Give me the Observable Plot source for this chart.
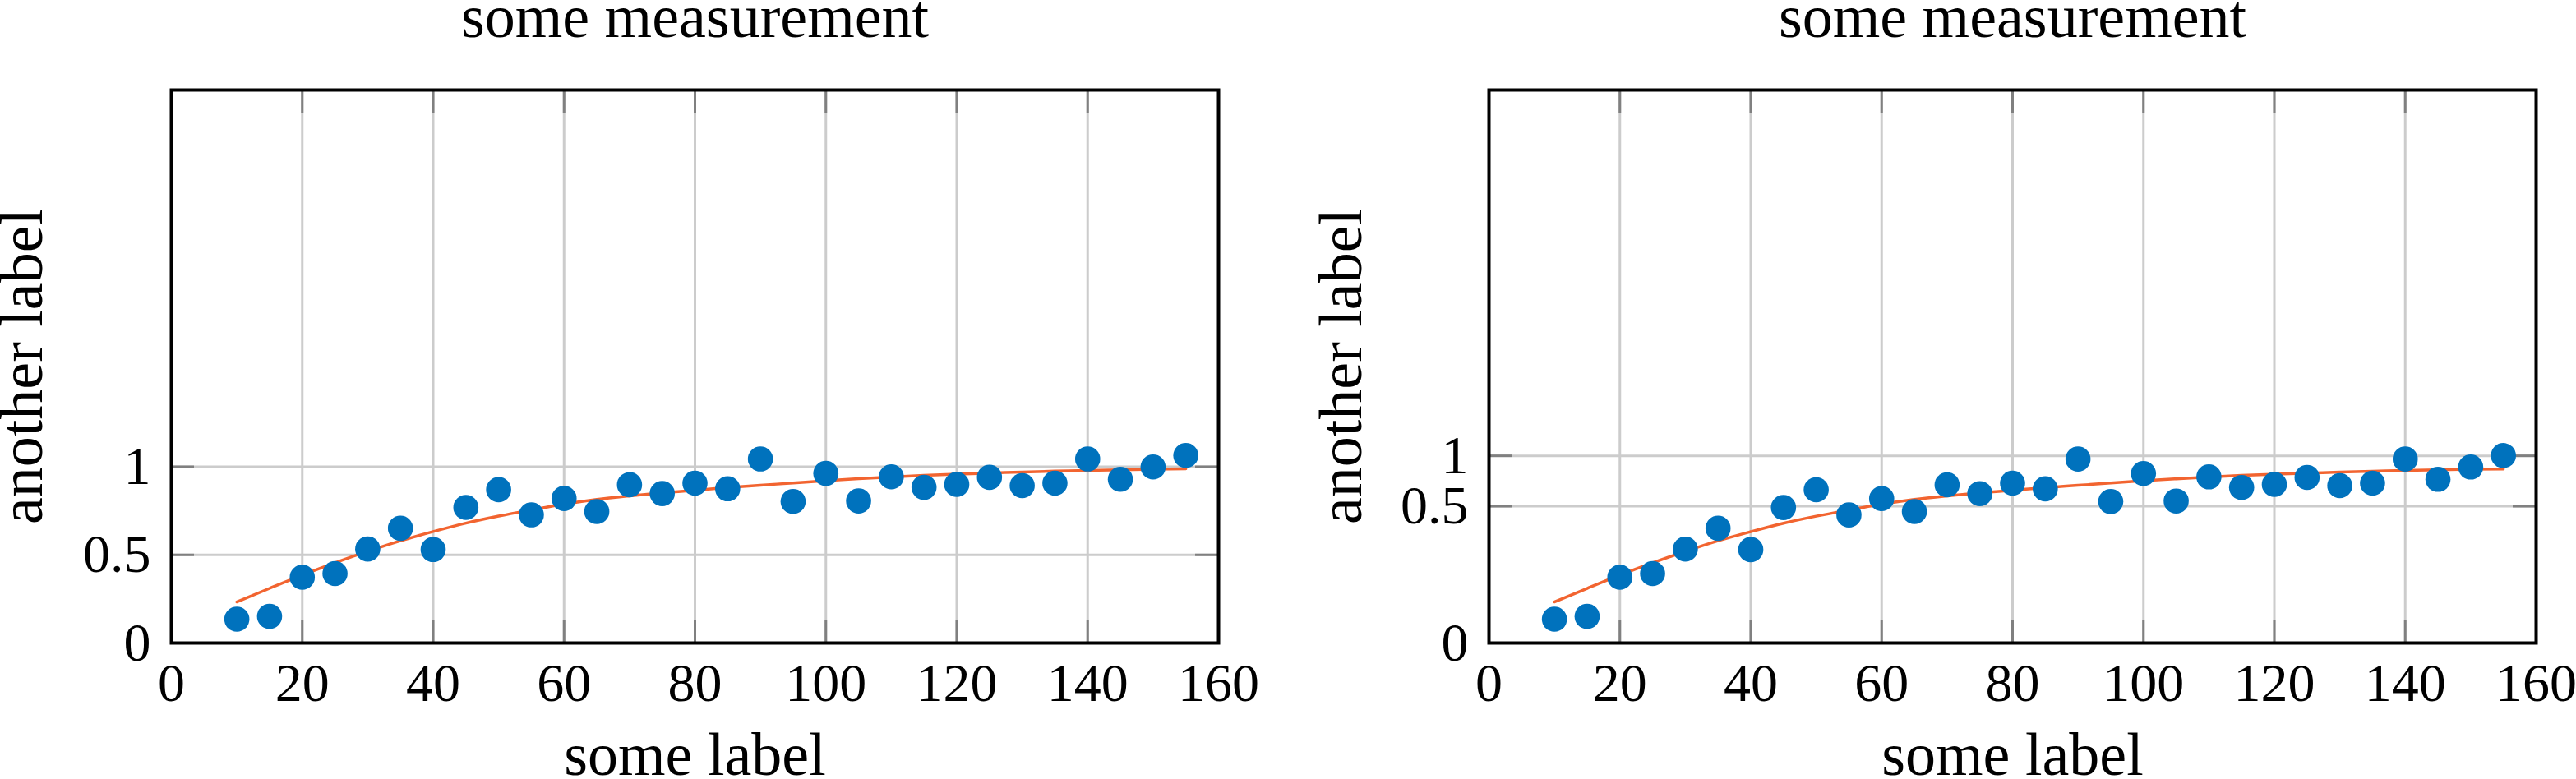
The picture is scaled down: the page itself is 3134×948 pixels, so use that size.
<!DOCTYPE html>
<html>
<head>
<meta charset="utf-8">
<script src="https://cdn.jsdelivr.net/npm/d3@7"></script>
<script src="https://cdn.jsdelivr.net/npm/@observablehq/plot@0.6"></script>
<style>
  html, body { margin: 0; padding: 0; background: white; }
  #wrap { display: flex; width: 3134px; height: 948px; }
</style>
</head>
<body>
<div id="wrap"></div>
<script>
// ---- data ----
const xs = [10, 15, 20, 25, 30, 35, 40, 45, 50, 55, 60, 65, 70, 75, 80, 85, 90, 95, 100, 105, 110, 115, 120, 125, 130, 135, 140, 145, 150, 155];

// left panel (linear y axis)
const leftY = [0.135, 0.151, 0.373, 0.394, 0.533, 0.651, 0.530, 0.769, 0.870, 0.727, 0.820, 0.746, 0.898, 0.848, 0.907, 0.875, 1.044, 0.803, 0.962, 0.806, 0.943, 0.883, 0.900, 0.940, 0.893, 0.907, 1.044, 0.929, 0.999, 1.064];
const leftFit = [0.233, 0.31, 0.385, 0.455, 0.52, 0.58, 0.632, 0.68, 0.72, 0.755, 0.788, 0.815, 0.835, 0.852, 0.867, 0.882, 0.895, 0.908, 0.921, 0.932, 0.942, 0.951, 0.958, 0.964, 0.970, 0.975, 0.979, 0.983, 0.986, 0.988];

// right panel (compressed y axis), values read against its own ticks
const rightY = [0.0105, 0.0134, 0.0990, 0.1117, 0.2178, 0.3388, 0.2150, 0.4894, 0.6426, 0.4323, 0.5639, 0.4577, 0.6892, 0.6074, 0.7047, 0.6509, 0.9614, 0.5384, 0.8025, 0.5429, 0.7679, 0.6641, 0.6927, 0.7625, 0.6808, 0.7047, 0.9614, 0.7430, 0.8723, 1.0026];
const rightFit = [0.0350, 0.0658, 0.1062, 0.1535, 0.2062, 0.2625, 0.3172, 0.3729, 0.4231, 0.4699, 0.5164, 0.5563, 0.5870, 0.6136, 0.6378, 0.6624, 0.6842, 0.7064, 0.7289, 0.7482, 0.7661, 0.7824, 0.7951, 0.8062, 0.8173, 0.8267, 0.8342, 0.8418, 0.8473, 0.8512];

const xTicks = [0, 20, 40, 60, 80, 100, 120, 140, 160];
const yTicks = [0, 0.5, 1];

const titleText = "some measurement";
const xLabelText = "some label";
const yLabelText = "another label";

// ---- drawing ----
const W = 1567, H = 948, MT = 109, MB = 166;
const FH = H - MT - MB;
const TICK = 28;

function panel({ys, fit, yScale, marginLeft, marginRight, yLabelDx}) {
  const pts = xs.map((x, i) => ({x, y: ys[i]}));
  const fitPts = xs.map((x, i) => ({x, y: fit[i]}));
  const FW = W - marginLeft - marginRight;
  return Plot.plot({
    width: W, height: H,
    marginLeft, marginRight, marginTop: MT, marginBottom: MB,
    style: {fontFamily: "Liberation Serif, serif", fontSize: "66px", background: "white", overflow: "visible", color: "black"},
    x: {domain: [0, 160]},
    y: yScale,
    marks: [
      Plot.gridX(xTicks, {stroke: "#cccccc", strokeOpacity: 1, strokeWidth: 3}),
      Plot.gridY(yTicks, {stroke: "#cccccc", strokeOpacity: 1, strokeWidth: 3}),
      Plot.ruleX(xTicks, {x: d => d, stroke: "#808080", strokeWidth: 3, insetTop: FH - TICK}),
      Plot.ruleX(xTicks, {x: d => d, stroke: "#808080", strokeWidth: 3, insetBottom: FH - TICK}),
      Plot.ruleY(yTicks, {y: d => d, stroke: "#808080", strokeWidth: 3, insetRight: FW - TICK}),
      Plot.ruleY(yTicks, {y: d => d, stroke: "#808080", strokeWidth: 3, insetLeft: FW - TICK}),
      Plot.line(fitPts, {x: "x", y: "y", stroke: "#F26430", strokeWidth: 3.5, curve: "monotone-x"}),
      Plot.dot(pts, {x: "x", y: "y", r: 15.3, fill: "#0072BD", stroke: "none"}),
      Plot.frame({stroke: "black", strokeWidth: 4}),
      Plot.axisX(xTicks, {tickSize: 0, tickPadding: 24, label: null, fontSize: 66, tickFormat: d => String(d)}),
      Plot.axisY(yTicks, {tickSize: 0, tickPadding: 25, label: null, fontSize: 66, tickFormat: d => String(d)}),
      Plot.text([titleText], {text: d => d, frameAnchor: "top", dy: -65, lineAnchor: "bottom", textAnchor: "middle", fontSize: 74}),
      Plot.text([xLabelText], {text: d => d, frameAnchor: "bottom", dy: 160, lineAnchor: "bottom", textAnchor: "middle", fontSize: 74}),
      Plot.text([yLabelText], {text: d => d, frameAnchor: "left", dx: yLabelDx, rotate: -90, lineAnchor: "bottom", textAnchor: "middle", fontSize: 74})
    ]
  });
}

const wrap = document.getElementById("wrap");
wrap.append(panel({
  ys: leftY, fit: leftFit,
  yScale: {type: "linear", domain: [0, 3.1375]},
  marginLeft: 208, marginRight: 85, yLabelDx: -158
}));
wrap.append(panel({
  ys: rightY, fit: rightFit,
  yScale: {type: "pow", exponent: 0.4527, domain: [0, 10.94]},
  marginLeft: 244, marginRight: 49, yLabelDx: -156
}));
</script>
</body>
</html>
